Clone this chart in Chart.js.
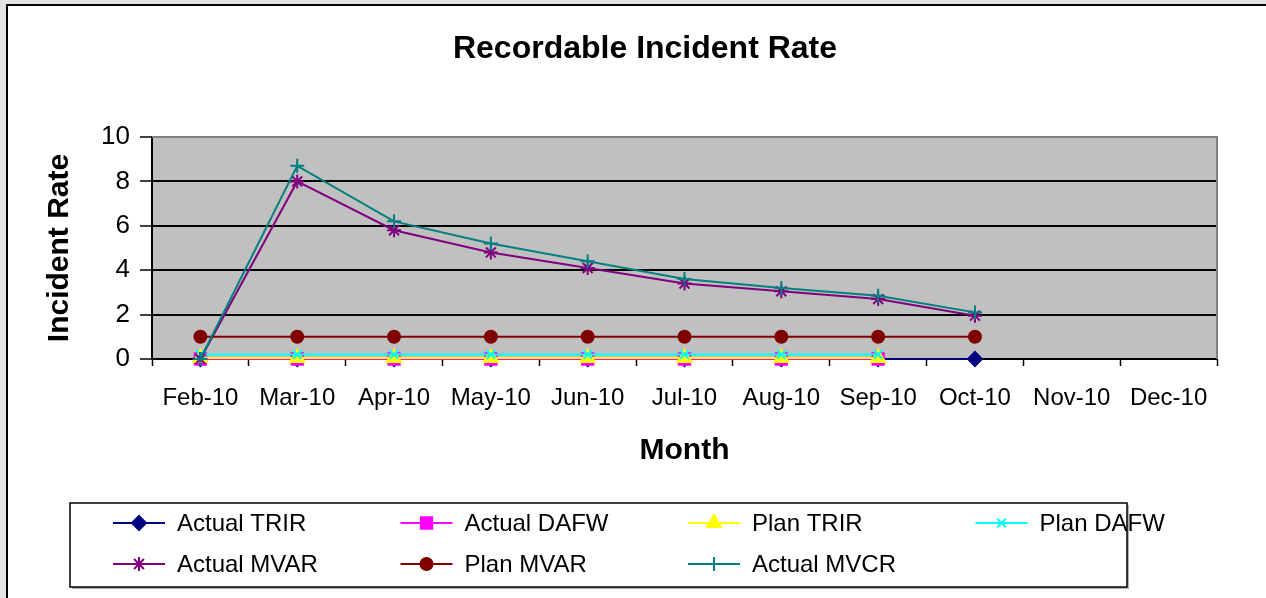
<!DOCTYPE html>
<html>
<head>
<meta charset="utf-8">
<script src="https://cdn.jsdelivr.net/npm/chart.js@4.4.1/dist/chart.umd.min.js"></script>
<style>
  html, body { margin: 0; padding: 0; background: #e4e4e4; overflow: hidden; }
  #frame { position: absolute; left: 6px; top: 4px; width: 1400px; height: 700px; border: 2px solid #000; background: #fff; }
  #chartBox { position: absolute; left: 0; top: 0; width: 1266px; height: 598px; }
</style>
</head>
<body>
<div id="frame"></div>
<div id="chartBox"><canvas id="rateChart" width="1266" height="598"></canvas></div>
<script>
// ================= DATA =================
const months = ["Feb-10", "Mar-10", "Apr-10", "May-10", "Jun-10", "Jul-10", "Aug-10", "Sep-10", "Oct-10", "Nov-10", "Dec-10"];
const actualTRIR = [0, 0, 0, 0, 0, 0, 0, 0, 0, null, null];
const actualDAFW = [0, 0, 0, 0, 0, 0, 0, 0, null, null, null];
const planTRIR   = [0.05, 0.05, 0.05, 0.05, 0.05, 0.05, 0.05, 0.05, null, null, null];
const planDAFW   = [0.2, 0.2, 0.2, 0.2, 0.2, 0.2, 0.2, 0.2, null, null, null];
const actualMVAR = [0, 8.0, 5.8, 4.8, 4.1, 3.4, 3.05, 2.7, 1.95, null, null];
const planMVAR   = [1, 1, 1, 1, 1, 1, 1, 1, 1, null, null];
const actualMVCR = [0, 8.7, 6.2, 5.2, 4.4, 3.6, 3.2, 2.85, 2.1, null, null];
const yTicks = [0, 2, 4, 6, 8, 10];

const FONT = "'Liberation Sans', Arial, sans-serif";

function series(label, data, color, style, radius, order) {
  return {
    label: label,
    data: data,
    borderColor: color,
    backgroundColor: color,
    pointBackgroundColor: color,
    pointBorderColor: color,
    pointStyle: style,
    pointRadius: radius,
    pointBorderWidth: 2,
    borderWidth: 2,
    tension: 0,
    spanGaps: false,
    clip: false,
    order: order
  };
}

// gray plot area + gray top/right frame
const plotBg = {
  id: "plotBg",
  beforeDraw(chart) {
    const a = chart.chartArea, c = chart.ctx;
    c.save();
    c.fillStyle = "#c0c0c0";
    c.fillRect(a.left, a.top, a.right - a.left, a.bottom - a.top);
    c.restore();
  },
  beforeDatasetsDraw(chart) {
    const a = chart.chartArea, c = chart.ctx;
    c.save();
    c.strokeStyle = "#808080";
    c.lineWidth = 2;
    c.beginPath();
    c.moveTo(a.left, a.top);
    c.lineTo(a.right, a.top);
    c.lineTo(a.right, a.bottom);
    c.stroke();
    c.restore();
  }
};

// title + boxed legend in 4 columns
const boxLegend = {
  id: "boxLegend",
  afterDraw(chart) {
    const c = chart.ctx;
    c.save();
    c.fillStyle = "#000";
    c.font = "bold 32px " + FONT;
    c.textAlign = "center";
    c.textBaseline = "middle";
    c.fillText("Recordable Incident Rate", 645, 49);

    // legend box
    c.fillStyle = "#b0b0b0";
    c.fillRect(72, 505, 1057, 84);
    c.fillStyle = "#fff";
    c.fillRect(70, 503, 1057, 84);
    c.strokeStyle = "#000";
    c.lineWidth = 1.5;
    c.strokeRect(70, 503, 1057, 84);

    c.font = "24px " + FONT;
    c.textAlign = "left";
    chart.data.datasets.forEach((ds, i) => {
      const col = i % 4, row = Math.floor(i / 4);
      const x0 = 113 + col * 287.5, y = 523 + row * 41;
      c.strokeStyle = ds.borderColor;
      c.lineWidth = 2;
      c.beginPath();
      c.moveTo(x0, y);
      c.lineTo(x0 + 52, y);
      c.stroke();
      if (Chart.helpers && Chart.helpers.drawPoint) {
        c.fillStyle = ds.pointBackgroundColor;
        c.strokeStyle = ds.pointBorderColor;
        c.lineWidth = 2;
        Chart.helpers.drawPoint(c, { pointStyle: ds.pointStyle, radius: ds.pointRadius, rotation: 0, borderWidth: 2 }, x0 + 26, y);
      }
      c.fillStyle = "#000";
      c.fillText(ds.label, x0 + 64, y + 1);
    });
    c.restore();
  }
};

const ctx = document.getElementById("rateChart").getContext("2d");

window.rateChart = new Chart(ctx, {
  type: "line",
  data: {
    labels: months,
    datasets: [
      series("Actual TRIR", actualTRIR, "#000080", "rectRot", 7, 7),
      series("Actual DAFW", actualDAFW, "#ff00ff", "rect", 8, 6),
      series("Plan TRIR", planTRIR, "#ffff00", "triangle", 8, 5),
      series("Plan DAFW", planDAFW, "#00ffff", "crossRot", 6, 4),
      series("Actual MVAR", actualMVAR, "#800080", "star", 7, 3),
      series("Plan MVAR", planMVAR, "#800000", "circle", 6, 2),
      series("Actual MVCR", actualMVCR, "#008080", "cross", 7, 1)
    ]
  },
  options: {
    responsive: false,
    animation: false,
    events: [],
    layout: {
      padding: { left: 40, right: 49, top: 137, bottom: 120 }
    },
    plugins: {
      legend: { display: false },
      title: { display: false },
      tooltip: { enabled: false }
    },
    scales: {
      y: {
        min: 0,
        max: 10,
        afterFit: s => { s.width = 112; },
        afterBuildTicks: s => { s.ticks = yTicks.map(v => ({ value: v })); },
        ticks: {
          color: "#000",
          padding: 10,
          font: { family: FONT, size: 26 }
        },
        grid: {
          color: c => (c.tick && c.tick.value === 10) ? "#808080" : "#000",
          lineWidth: 2,
          tickLength: 12,
          tickColor: "#000",
          tickWidth: 1.5
        },
        border: { color: "#000", width: 2 },
        title: {
          display: true,
          text: "Incident Rate",
          color: "#000",
          padding: { top: 2, bottom: 0 },
          font: { family: FONT, size: 30, weight: "bold" }
        }
      },
      x: {
        offset: true,
        afterFit: s => { s.height = 119; },
        ticks: {
          color: "#000",
          padding: 18,
          maxRotation: 0,
          autoSkip: false,
          font: { family: FONT, size: 24 }
        },
        grid: {
          offset: true,
          drawOnChartArea: false,
          tickLength: 7,
          tickColor: "#000",
          tickWidth: 1.5
        },
        border: { color: "#000", width: 2 },
        title: {
          display: true,
          text: "Month",
          color: "#000",
          padding: { top: 0, bottom: 9 },
          font: { family: FONT, size: 30, weight: "bold" }
        }
      }
    }
  },
  plugins: [plotBg, boxLegend]
});
</script>
</body>
</html>
